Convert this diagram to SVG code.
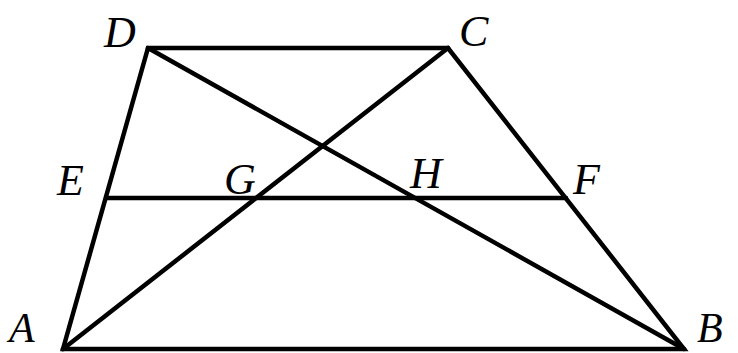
<svg xmlns="http://www.w3.org/2000/svg" width="738" height="353" viewBox="0 0 738 353">
<style>
.l{stroke:#000;stroke-width:4.5;fill:none;stroke-linecap:round;stroke-linejoin:miter}
.t{font-family:"Liberation Serif","Times New Roman",serif;font-style:italic;font-size:44px;fill:#000}
</style>
<rect width="738" height="353" fill="#fff"/>
<g id="connectors">
<polygon class="l" points="63,349 684,349 448,48 148,48"/>
<line class="l" x1="63" y1="349" x2="448" y2="48"/>
<line class="l" x1="148" y1="48" x2="684" y2="349"/>
<line class="l" x1="106" y1="198" x2="566" y2="198"/>
</g>
<g id="A"><text class="t" x="9" y="342" style="font-size:42px">A</text></g>
<g id="B"><text class="t" x="697" y="342" style="font-size:42px">B</text></g>
<g id="C"><text class="t" x="459" y="46">C</text></g>
<g id="D"><text class="t" x="104" y="47">D</text></g>
<g id="E"><text class="t" x="57" y="195">E</text></g>
<g id="G"><text class="t" x="224" y="194">G</text></g>
<g id="H"><text class="t" x="410" y="188">H</text></g>
<g id="F"><text class="t" x="573" y="194">F</text></g>
</svg>
